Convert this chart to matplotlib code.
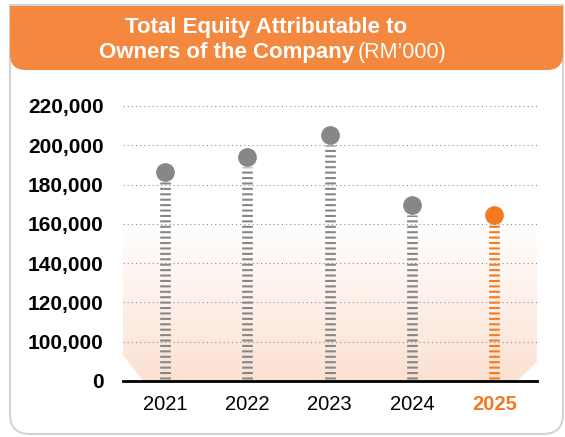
import numpy as np
import matplotlib
matplotlib.use('Agg')
import matplotlib.pyplot as plt
from matplotlib.patches import FancyBboxPatch, Rectangle, Polygon

plt.rcParams['font.family'] = ['Liberation Sans', 'DejaVu Sans']
plt.rcParams['lines.scale_dashes'] = False

# data (RM'000)
years = ['2021', '2022', '2023', '2024', '2025']
equity = [186400, 194000, 205300, 169600, 164500]
ytick_vals = [80000, 100000, 120000, 140000, 160000, 180000, 200000, 220000]
ytick_labels = ['0', '100,000', '120,000', '140,000', '160,000', '180,000', '200,000', '220,000']

orange = '#F4883F'
hi_orange = '#F47A20'
grey = '#87878A'

W, H = 565, 437
fig = plt.figure(figsize=(W / 100, H / 100), dpi=100)

def fx(px):
    return px / W

def fy(py):
    return 1 - py / H

# card with grey border
card = FancyBboxPatch((fx(10), fy(434)), fx(553), (429) / H,
                      boxstyle='round,pad=0,rounding_size=0.035',
                      transform=fig.transFigure, facecolor='white',
                      edgecolor='#D3D3D3', lw=1.5, mutation_aspect=W / H, zorder=-10)
fig.patches.append(card)
fig.patches.append(Rectangle((fx(10), fy(40)), fx(553), 35 / H, transform=fig.transFigure,
                             facecolor='white', edgecolor='#D3D3D3', lw=1.5, zorder=-9))

# orange header
head = FancyBboxPatch((fx(10), fy(70)), fx(553), 64 / H,
                      boxstyle='round,pad=0,rounding_size=0.028',
                      transform=fig.transFigure, facecolor=orange,
                      edgecolor='none', mutation_aspect=W / H, zorder=-8)
fig.patches.append(head)
fig.patches.append(Rectangle((fx(10), fy(40)), fx(553), 34 / H, transform=fig.transFigure,
                             facecolor=orange, edgecolor='none', zorder=-8))

fig.text(fx(266), fy(33), 'Total Equity Attributable to', color='white',
         fontsize=16, fontweight='bold', ha='center', va='baseline')
fig.text(fx(354), fy(58), 'Owners of the Company', color='white',
         fontsize=16, fontweight='bold', ha='right', va='baseline')
fig.text(fx(358), fy(58), '(RM\u2019000)', color='white',
         fontsize=15.5, ha='left', va='baseline')

ax = fig.add_axes([fx(123), 56 / H, fx(537 - 123), 275 / H])
ax.set_facecolor('none')
x = np.arange(len(years))
ax.set_xlim(-0.51, 4.52)
ax.set_ylim(80000, 220000)

# peach gradient behind the stems (peach at bottom, fading to white)
grad = np.linspace(1, 0, 256).reshape(-1, 1)
peach = np.array([251, 225, 210]) / 255
img = np.ones((256, 1, 3)) * (1 - grad[..., None]) + peach * grad[..., None]
top = 1 - (222 - 106) / 275
im = ax.imshow(img, extent=[0, 1, 0, top], transform=ax.transAxes,
               aspect='auto', origin='lower', zorder=0)
clip = Polygon([(0, 26 / 275), (20 / 414, 0), (394 / 414, 0), (1, 19 / 275),
                (1, top), (0, top)], closed=True, transform=ax.transAxes,
               facecolor='none', edgecolor='none')
ax.add_patch(clip)
im.set_clip_path(clip)

ax.set_yticks(ytick_vals)
ax.set_yticklabels(ytick_labels, fontsize=15, fontweight='bold')
ax.set_xticks(x)
ax.set_xticklabels(years, fontsize=14.5)
ax.tick_params(axis='y', length=0, pad=14)
ax.tick_params(axis='x', length=0, pad=10)
ax.get_xticklabels()[-1].set_color(hi_orange)
ax.get_xticklabels()[-1].set_fontweight('bold')

ax.yaxis.grid(True, color='#8E8E8E', lw=0.8, linestyle=(0, (0.8, 2.2)), zorder=1)
ax.set_axisbelow(True)
for s in ['top', 'right', 'left']:
    ax.spines[s].set_visible(False)
ax.spines['bottom'].set_color('black')
ax.spines['bottom'].set_linewidth(2)
ax.spines['bottom'].set_zorder(5)

cols = [grey] * 4 + [hi_orange]
for xi, v, c in zip(x, equity, cols):
    ax.plot([xi, xi], [81200, v - 5000], color=c, lw=7.7,
            linestyle=(0, (1.5, 2.4)), solid_capstyle='butt',
            dash_capstyle='butt', zorder=3)
    ax.plot(xi, v, 'o', color=c, ms=13.5, mec='none', zorder=4, clip_on=False)

fig.savefig('out.png', dpi=100)
